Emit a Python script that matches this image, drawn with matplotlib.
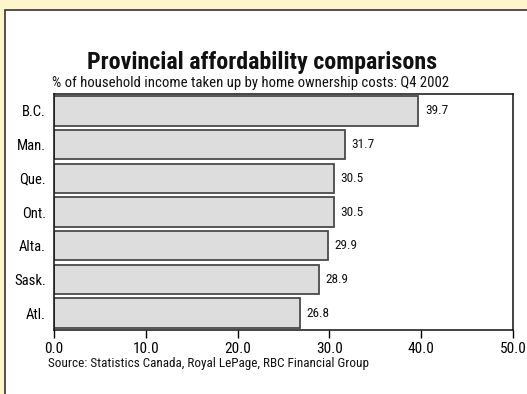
import matplotlib
matplotlib.use("Agg")
import matplotlib.pyplot as plt
from matplotlib.patches import Rectangle
from matplotlib import font_manager

provinces = ["B.C.", "Man.", "Que.", "Ont.", "Alta.", "Sask.", "Atl."]
shares = [39.7, 31.7, 30.5, 30.5, 29.9, 28.9, 26.8]
x_ticks = [0, 10, 20, 30, 40, 50]

names = {f.name for f in font_manager.fontManager.ttflist}
family = "DejaVu Sans"
for cand in ["Roboto Condensed", "Liberation Sans Narrow", "Arial Narrow", "Roboto", "Liberation Sans"]:
    if cand in names:
        family = cand
        break
plt.rcParams["font.family"] = [family, "DejaVu Sans"]

W, H = 527, 394
fig = plt.figure(figsize=(W / 100, H / 100), dpi=100)
fig.patch.set_facecolor("#FFF5CC")

# white panel with a dark frame on the top and left
panel = Rectangle((5 / W, -0.01), 1, 1 - 10 / H + 0.01, transform=fig.transFigure,
                  facecolor="white", edgecolor="#333333", linewidth=1.2, zorder=-5)
fig.patches.append(panel)

ax = fig.add_axes([54 / W, 1 - 330 / H, (513 - 54) / W, (330 - 94) / H])
ax.set_zorder(2)
ax.set_facecolor("white")

y = list(range(len(provinces)))
ax.barh(y, shares, height=0.87, color="#DDDDDD", edgecolor="#4A4A4A", linewidth=1.3)
ax.set_ylim(len(provinces) - 0.5, -0.5)
ax.set_xlim(0, 50)

for yi, v in zip(y, shares):
    ax.text(v + 0.7, yi, f"{v:.1f}", va="center", ha="left", fontsize=9.5, color="#111111")

ax.set_yticks(y)
ax.set_yticklabels(provinces, fontsize=10.5)
ax.tick_params(axis="y", length=0, pad=6)
ax.set_xticks(x_ticks)
ax.set_xticklabels([f"{t:.1f}" for t in x_ticks], fontsize=11)
ax.tick_params(axis="x", length=6, width=1, direction="out", pad=2.5)
for s in ax.spines.values():
    s.set_linewidth(1.1)
    s.set_color("#111111")

fig.text(262 / W, 1 - 62 / H, "Provincial affordability comparisons",
         ha="center", va="center", fontsize=17.3, fontweight="bold", color="#111111")
fig.text(52 / W, 1 - 83 / H, "% of household income taken up by home ownership costs: Q4 2002",
         ha="left", va="center", fontsize=10.6, color="#111111")
fig.text(48 / W, 1 - 363 / H, "Source: Statistics Canada, Royal LePage, RBC Financial Group",
         ha="left", va="center", fontsize=9.5, color="#111111")

fig.savefig("out.png", dpi=100, facecolor=fig.get_facecolor())
